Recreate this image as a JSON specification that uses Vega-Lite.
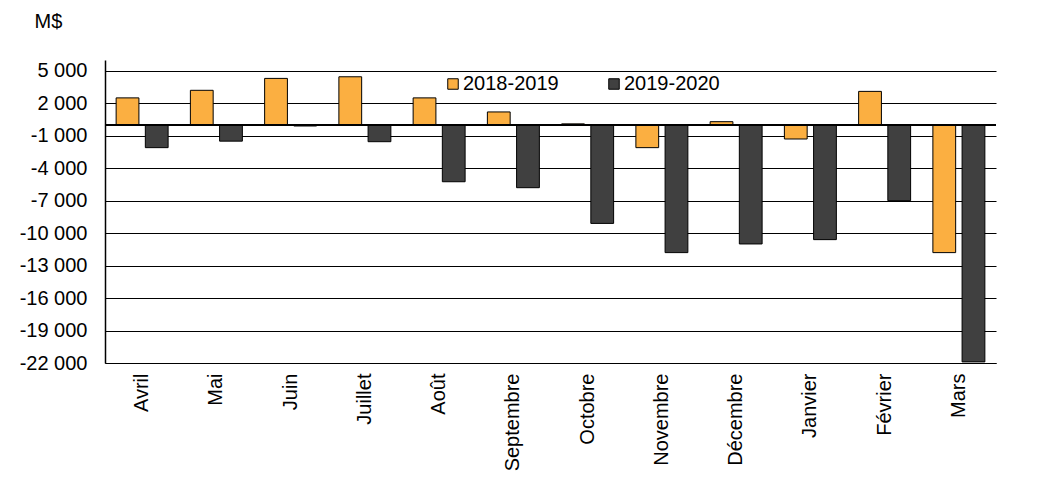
{
  "$schema": "https://vega.github.io/schema/vega-lite/v6.json",
  "autosize": "none",
  "width": 891,
  "height": 303,
  "padding": {"left": 105, "top": 60, "right": 49, "bottom": 139},
  "config": {
    "font": "Liberation Sans",
    "view": {"stroke": null},
    "axis": {"labelColor": "#000", "titleColor": "#000"}
  },
  "data": {
    "values": [
      {"mois": "Avril", "annee": "2018-2019", "valeur": 2500},
      {"mois": "Avril", "annee": "2019-2020", "valeur": -2100},
      {"mois": "Mai", "annee": "2018-2019", "valeur": 3200},
      {"mois": "Mai", "annee": "2019-2020", "valeur": -1500},
      {"mois": "Juin", "annee": "2018-2019", "valeur": 4300},
      {"mois": "Juin", "annee": "2019-2020", "valeur": -100},
      {"mois": "Juillet", "annee": "2018-2019", "valeur": 4450},
      {"mois": "Juillet", "annee": "2019-2020", "valeur": -1550},
      {"mois": "Août", "annee": "2018-2019", "valeur": 2500},
      {"mois": "Août", "annee": "2019-2020", "valeur": -5250},
      {"mois": "Septembre", "annee": "2018-2019", "valeur": 1200},
      {"mois": "Septembre", "annee": "2019-2020", "valeur": -5800},
      {"mois": "Octobre", "annee": "2018-2019", "valeur": 100},
      {"mois": "Octobre", "annee": "2019-2020", "valeur": -9100},
      {"mois": "Novembre", "annee": "2018-2019", "valeur": -2100},
      {"mois": "Novembre", "annee": "2019-2020", "valeur": -11800},
      {"mois": "Décembre", "annee": "2018-2019", "valeur": 300},
      {"mois": "Décembre", "annee": "2019-2020", "valeur": -11000},
      {"mois": "Janvier", "annee": "2018-2019", "valeur": -1300},
      {"mois": "Janvier", "annee": "2019-2020", "valeur": -10600},
      {"mois": "Février", "annee": "2018-2019", "valeur": 3100},
      {"mois": "Février", "annee": "2019-2020", "valeur": -7000},
      {"mois": "Mars", "annee": "2018-2019", "valeur": -11800},
      {"mois": "Mars", "annee": "2019-2020", "valeur": -21900}
    ]
  },
  "layer": [
    {
      "mark": {"type": "bar", "stroke": "#000", "strokeWidth": 1},
      "encoding": {
        "x": {
          "field": "mois",
          "type": "nominal",
          "sort": ["Avril", "Mai", "Juin", "Juillet", "Août", "Septembre", "Octobre", "Novembre", "Décembre", "Janvier", "Février", "Mars"],
          "scale": {"paddingInner": 0.3, "paddingOuter": 0.15},
          "axis": {
            "title": null,
            "labelAngle": -90,
            "labelAlign": "right",
            "labelBaseline": "middle",
            "labelFontSize": 20,
            "labelPadding": 10,
            "labelOverlap": false,
            "ticks": false,
            "domainColor": "#000",
            "domainWidth": 1
          }
        },
        "xOffset": {
          "field": "annee",
          "type": "nominal",
          "scale": {"paddingInner": 0.22, "paddingOuter": 0}
        },
        "y": {
          "field": "valeur",
          "type": "quantitative",
          "scale": {"domain": [-22000, 6000], "nice": false, "zero": false},
          "axis": {
            "values": [-22000, -19000, -16000, -13000, -10000, -7000, -4000, -1000, 2000, 5000],
            "tickCount": 30,
            "labelExpr": "(datum.value < 0 ? '-' : '') + replace(format(abs(datum.value), ','), ',', ' ')",
            "labelFontSize": 20,
            "labelPadding": 18,
            "labelOverlap": false,
            "ticks": false,
            "grid": true,
            "gridColor": "#000",
            "gridOpacity": 1,
            "gridWidth": 1,
            "domainColor": "#000",
            "domainWidth": 1.5,
            "title": "M$",
            "titleAngle": 0,
            "titleFontSize": 20,
            "titleFontWeight": "normal",
            "titleAlign": "left",
            "titleBaseline": "alphabetic",
            "titleX": -71,
            "titleY": -33
          }
        },
        "color": {
          "field": "annee",
          "type": "nominal",
          "scale": {"domain": ["2018-2019", "2019-2020"], "range": ["#FBAF41", "#404040"]},
          "legend": {
            "title": null,
            "orient": "none",
            "direction": "horizontal",
            "legendX": 338,
            "legendY": 14,
            "symbolType": "square",
            "symbolSize": 110,
            "symbolStrokeColor": "#000",
            "symbolStrokeWidth": 1,
            "symbolOpacity": 1,
            "labelFontSize": 20,
            "labelColor": "#000",
            "labelOffset": 0,
            "columnPadding": 45,
            "padding": 0
          }
        }
      }
    },
    {
      "mark": {"type": "rule", "color": "#000", "strokeWidth": 1},
      "encoding": {"y": {"datum": 0, "type": "quantitative"}}
    }
  ]
}
